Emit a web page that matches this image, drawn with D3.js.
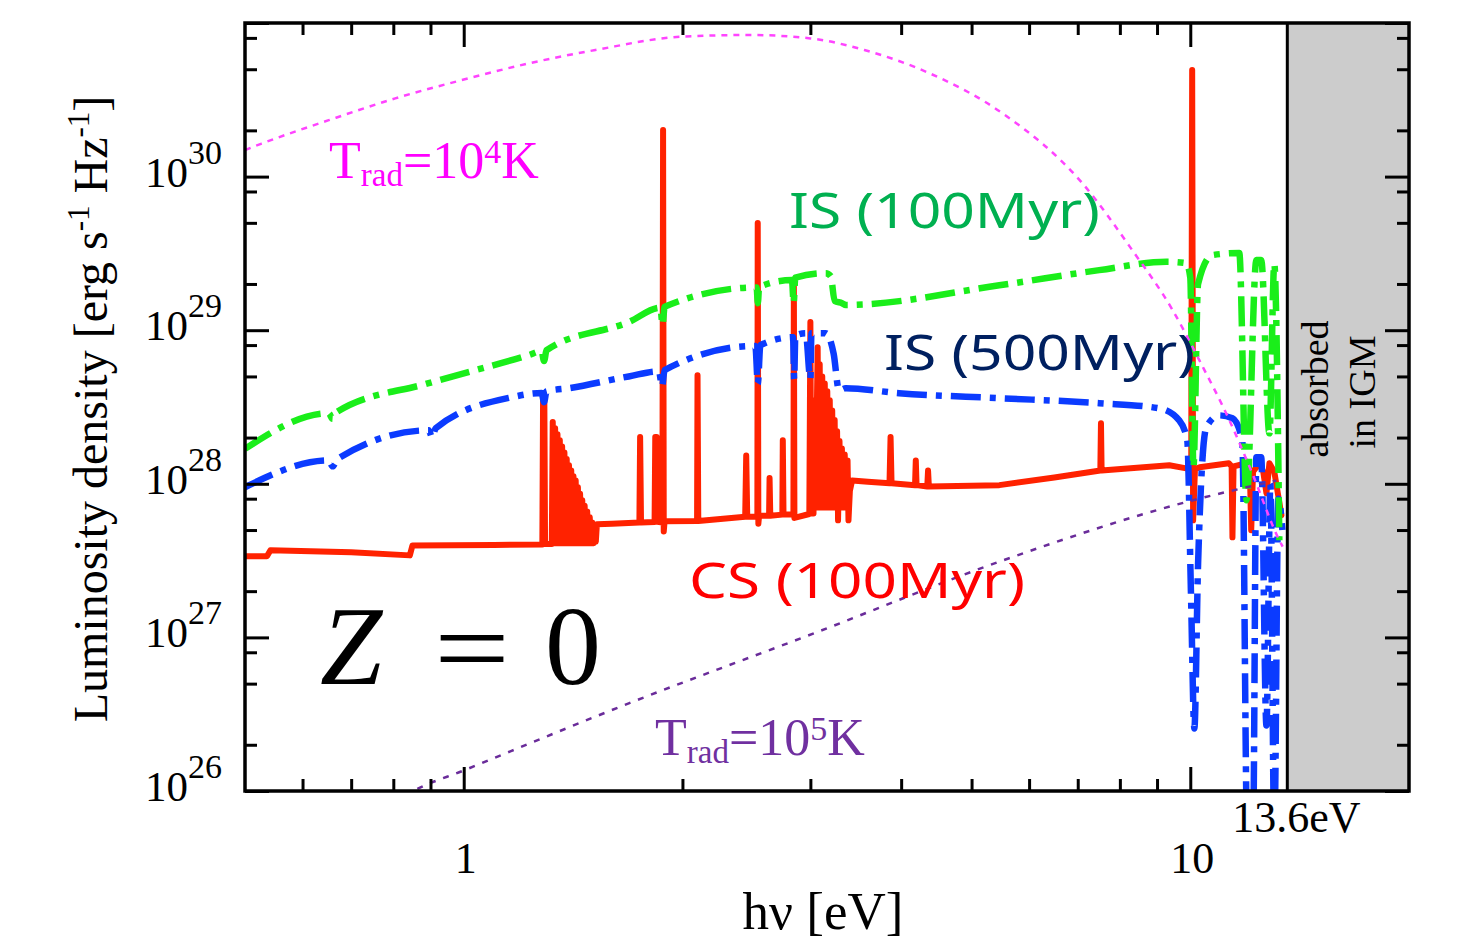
<!DOCTYPE html>
<html>
<head>
<meta charset="utf-8">
<script src="https://cdn.jsdelivr.net/npm/d3@7"></script>
<style>
  html, body { margin: 0; padding: 0; background: #ffffff; }
  svg { display: block; }
</style>
</head>
<body>
<svg id="chart" width="1463" height="942"></svg>
<script>
// ---------------- data ----------------
const xTicksMajor = [1, 10];
const xTicksMinor = [0.6, 0.7, 0.8, 0.9, 2, 3, 4, 5, 6, 7, 8, 9];
const xTickLabels = ["1", "10"];
const yTicksMajor = [1e26, 1e27, 1e28, 1e29, 1e30, 1e31];
const yTickExponents = ["26", "27", "28", "29", "30"];
const yTicksMinor = [2e26, 5e26, 8e26, 2e27, 5e27, 8e27, 2e28, 5e28, 8e28,
                     2e29, 5e29, 8e29, 2e30, 5e30, 8e30];
const lymanLimit = 13.6;   // eV, start of the "absorbed in IGM" band

// [h nu (eV), L_nu (erg s^-1 Hz^-1)]
const bb1e4 = [
  [0.50, 1.49e30], [0.527, 1.64e30], [0.652, 2.33e30], [0.805, 3.23e30],
  [0.994, 4.25e30], [1.229, 5.46e30], [1.518, 6.67e30], [1.997, 8.15e30],
  [2.47, 8.36e30], [3.00, 7.94e30], [3.56, 6.67e30], [4.37, 4.72e30],
  [5.51, 2.59e30], [7.10, 9.08e29], [8.32, 3.32e29], [9.44, 1.37e29],
  [10.29, 6.38e28], [11.32, 2.59e28], [12.17, 1.17e28], [13.26, 4.29e27],
  [13.40, 3.9e27]
];

const bb1e5 = [
  [0.80, 8.3e25], [0.853, 1.0e26], [1.0, 1.36e26], [1.687, 3.72e26],
  [3.045, 1.07e27], [5.51, 3.16e27], [10.03, 7.76e27], [13.14, 1.05e28]
];

const cs100 = [
  [0.50, 3.37e27], [0.536, 3.37e27], [0.542, 3.69e27], [0.70, 3.58e27],
  [0.843, 3.42e27], [0.850, 3.97e27], [1.10, 4.00e27], [1.283, 4.03e27],
  [1.286, 3.78e28], [1.291, 3.78e28], [1.294, 4.05e27], [1.322, 4.05e27],
  [1.326, 2.53e28], [1.331, 4.1e27], [1.336, 2.3e28], [1.341, 4.1e27],
  [1.346, 2.1e28], [1.351, 4.1e27], [1.356, 1.92e28], [1.361, 4.1e27],
  [1.366, 1.75e28], [1.371, 4.1e27], [1.376, 1.6e28], [1.381, 4.1e27],
  [1.386, 1.45e28], [1.391, 4.1e27], [1.396, 1.32e28], [1.401, 4.1e27],
  [1.406, 1.22e28], [1.411, 4.1e27], [1.416, 1.12e28], [1.421, 4.1e27],
  [1.426, 1.05e28], [1.431, 4.1e27], [1.436, 9.5e27], [1.441, 4.1e27],
  [1.446, 8.6e27], [1.451, 4.1e27], [1.456, 7.8e27], [1.461, 4.1e27],
  [1.467, 7.2e27], [1.473, 4.1e27], [1.479, 6.6e27], [1.485, 4.1e27],
  [1.491, 6.05e27], [1.497, 4.1e27], [1.503, 5.6e27], [1.509, 4.1e27],
  [1.515, 5.21e27], [1.520, 4.2e27], [1.525, 5.45e27], [1.60, 5.5e27],
  [1.745, 5.6e27], [1.749, 2.02e28], [1.754, 5.6e27], [1.831, 5.65e27],
  [1.835, 2.02e28], [1.843, 2.02e28], [1.847, 5.65e27], [1.877, 5.6e27],
  [1.881, 2.01e30], [1.885, 4.9e27], [1.89, 5.7e27], [2.095, 5.73e27],
  [2.098, 5.09e28], [2.103, 5.73e27], [2.44, 6.1e27], [2.448, 1.53e28],
  [2.456, 6.1e27], [2.536, 6.1e27], [2.539, 4.98e29], [2.544, 5.5e27],
  [2.55, 6.2e27], [2.632, 6.2e27], [2.636, 1.09e28], [2.642, 6.2e27],
  [2.745, 6.3e27], [2.749, 1.92e28], [2.755, 6.3e27], [2.843, 6.3e27],
  [2.847, 1.96e29], [2.852, 6.0e27], [2.99, 6.36e27], [3.00, 1.13e29],
  [3.008, 6.4e27], [3.03, 6.4e27], [3.04, 3.5e28], [3.05, 7.0e27],
  [3.07, 7.75e28], [3.08, 7.0e27], [3.09, 6.0e28], [3.10, 7.0e27],
  [3.115, 5.0e28], [3.125, 7.0e27], [3.14, 4.5e28], [3.15, 7.0e27],
  [3.165, 4.0e28], [3.175, 7.0e27], [3.19, 3.5e28], [3.20, 7.0e27],
  [3.215, 3.0e28], [3.225, 7.0e27], [3.24, 2.6e28], [3.25, 7.0e27],
  [3.265, 2.2e28], [3.275, 5.78e27], [3.29, 1.9e28], [3.30, 7.0e27],
  [3.315, 1.7e28], [3.325, 7.0e27], [3.345, 1.55e28], [3.358, 7.0e27],
  [3.375, 1.42e28], [3.385, 5.78e27], [3.40, 9.0e27], [3.424, 1.05e28],
  [3.60, 1.03e28], [3.855, 1.01e28], [3.868, 2.02e28], [3.88, 1.01e28],
  [4.18, 9.8e27], [4.19, 1.42e28], [4.20, 9.8e27], [4.345, 9.6e27],
  [4.356, 1.22e28], [4.367, 9.6e27], [5.46, 9.8e27], [6.5, 1.1e28],
  [7.52, 1.22e28], [7.535, 2.48e28], [7.55, 1.22e28], [9.357, 1.32e28],
  [9.874, 1.26e28], [10.03, 1.24e28], [10.06, 4.94e30], [10.09, 5.78e27],
  [10.15, 1.25e28], [10.3, 1.28e28], [11.3, 1.36e28], [11.40, 1.3e28],
  [11.43, 4.48e27], [11.47, 1.3e28], [11.95, 1.36e28], [12.08, 1.2e28],
  [12.13, 4.98e27], [12.2, 1.2e28], [12.45, 1.36e28], [12.6, 1.2e28],
  [12.73, 8.67e27], [12.85, 1.36e28], [13.05, 1.2e28], [13.35, 6.24e27]
];

const is500 = [
  [0.50, 9.5e27], [0.652, 1.42e28], [0.66, 1.30e28], [0.67, 1.45e28],
  [0.895, 2.23e28], [0.905, 2.0e28], [0.915, 2.3e28], [1.164, 3.66e28],
  [1.28, 3.9e28], [1.29, 3.4e28], [1.30, 4.0e28], [1.40, 4.2e28],
  [1.687, 5.0e28], [1.856, 5.4e28], [1.875, 4.3e28], [1.89, 5.5e28],
  [2.52, 7.9e28], [2.54, 4.5e28], [2.56, 8.0e28], [2.84, 9.0e28],
  [2.85, 4.8e28], [2.86, 9.2e28], [2.956, 9.55e28], [3.00, 4.8e28],
  [3.01, 9.55e28], [3.149, 9.55e28], [3.23, 7.0e28], [3.285, 4.06e28],
  [3.356, 4.19e28], [3.973, 3.89e28], [5.46, 3.61e28], [7.493, 3.35e28],
  [9.066, 3.10e28], [9.656, 2.59e28], [9.905, 1.92e28], [10.02, 2.0e27],
  [10.13, 2.55e26], [10.25, 3.0e27], [10.52, 2.33e28], [10.96, 2.79e28],
  [11.43, 2.67e28], [11.79, 1.92e28], [11.98, 5.0e25], [12.20, 5.0e25],
  [12.33, 1.49e28], [12.52, 1.49e28], [12.73, 2.67e26], [12.89, 1.0e28],
  [13.05, 5.0e25], [13.22, 8.0e27], [13.39, 5.0e27]
];

const is100 = [
  [0.50, 1.69e28], [0.652, 2.88e28], [0.66, 2.65e28], [0.67, 2.95e28],
  [0.895, 4.52e28], [1.229, 6.88e28], [1.28, 7.3e28], [1.29, 6.3e28],
  [1.30, 7.4e28], [1.687, 1.13e29], [1.865, 1.40e29], [1.878, 1.08e29],
  [1.89, 1.42e29], [2.53, 1.9e29], [2.54, 1.5e29], [2.55, 1.91e29],
  [2.83, 2.12e29], [2.845, 1.5e29], [2.86, 2.2e29], [3.149, 2.35e29],
  [3.20, 2.25e29], [3.24, 1.55e29], [3.317, 1.50e29], [3.356, 1.46e29],
  [5.46, 1.96e29], [7.493, 2.46e29], [9.27, 2.79e29], [9.874, 2.73e29],
  [10.0, 2.2e29], [10.1, 1.28e28], [10.25, 2.0e29], [10.72, 3.08e29],
  [11.68, 3.18e29], [11.95, 7.8e27], [12.33, 2.86e29], [12.52, 2.86e29],
  [12.85, 2.13e28], [13.05, 2.7e29], [13.26, 4.29e27]
];

// ---------------- drawing ----------------
const svg = d3.select("#chart");
const L = 245, R = 1409, T = 23, B = 791;

const x = d3.scaleLog().domain([0.5, 20]).range([L, R]);
const y = d3.scaleLog().domain([1e26, 1e31]).range([B, T]);

svg.append("rect").attr("width", 1463).attr("height", 942).attr("fill", "#fff");

svg.append("defs").append("clipPath").attr("id", "plotclip")
  .append("rect").attr("x", L).attr("y", T).attr("width", R - L).attr("height", B - T);

const plot = svg.append("g").attr("clip-path", "url(#plotclip)");

const lineLin = d3.line().x(d => x(d[0])).y(d => y(d[1]));
const lineSmooth = d3.line().x(d => x(d[0])).y(d => y(d[1])).curve(d3.curveMonotoneX);

plot.append("path").datum(cs100).attr("d", lineLin)
  .attr("fill", "none").attr("stroke", "#ff2200").attr("stroke-width", 6)
  .attr("stroke-linejoin", "round").attr("stroke-linecap", "round");

plot.append("path").datum(is500).attr("d", lineSmooth)
  .attr("fill", "none").attr("stroke", "#0b3bff").attr("stroke-width", 6.5)
  .attr("stroke-dasharray", "30,9,6,9");

plot.append("path").datum(is100).attr("d", lineSmooth)
  .attr("fill", "none").attr("stroke", "#1aee1a").attr("stroke-width", 6.5)
  .attr("stroke-dasharray", "30,9,6,9");

plot.append("path").datum(bb1e4).attr("d", lineSmooth)
  .attr("fill", "none").attr("stroke", "#ff44ff").attr("stroke-width", 2.5)
  .attr("stroke-dasharray", "6,6");

plot.append("path").datum(bb1e5).attr("d", lineSmooth)
  .attr("fill", "none").attr("stroke", "#6a2c9a").attr("stroke-width", 2.5)
  .attr("stroke-dasharray", "6,8");

// absorbed band
const xl = x(lymanLimit);
svg.append("rect").attr("x", xl).attr("y", T).attr("width", R - xl).attr("height", B - T)
  .attr("fill", "#cccccc");
svg.append("line").attr("x1", xl).attr("x2", xl).attr("y1", T).attr("y2", B)
  .attr("stroke", "#000").attr("stroke-width", 3);

// axes (ticks inward on all sides)
function styleAxis(g) {
  g.select(".domain").remove();
  g.selectAll(".tick line").attr("stroke", "#000").attr("stroke-width", 3);
  g.selectAll(".tick text").remove();
}
const majLen = 24, minLen = 12;
svg.append("g").attr("transform", `translate(0,${B})`)
  .call(d3.axisBottom(x).tickValues(xTicksMajor).tickSize(-majLen).tickFormat("")).call(styleAxis);
svg.append("g").attr("transform", `translate(0,${B})`)
  .call(d3.axisBottom(x).tickValues(xTicksMinor).tickSize(-minLen).tickFormat("")).call(styleAxis);
svg.append("g").attr("transform", `translate(0,${T})`)
  .call(d3.axisTop(x).tickValues(xTicksMajor).tickSize(-majLen).tickFormat("")).call(styleAxis);
svg.append("g").attr("transform", `translate(0,${T})`)
  .call(d3.axisTop(x).tickValues(xTicksMinor).tickSize(-minLen).tickFormat("")).call(styleAxis);
svg.append("g").attr("transform", `translate(${L},0)`)
  .call(d3.axisLeft(y).tickValues(yTicksMajor).tickSize(-majLen).tickFormat("")).call(styleAxis);
svg.append("g").attr("transform", `translate(${L},0)`)
  .call(d3.axisLeft(y).tickValues(yTicksMinor).tickSize(-minLen).tickFormat("")).call(styleAxis);
svg.append("g").attr("transform", `translate(${R},0)`)
  .call(d3.axisRight(y).tickValues(yTicksMajor).tickSize(-majLen).tickFormat("")).call(styleAxis);
svg.append("g").attr("transform", `translate(${R},0)`)
  .call(d3.axisRight(y).tickValues(yTicksMinor).tickSize(-minLen).tickFormat("")).call(styleAxis);

// frame
svg.append("rect").attr("x", L).attr("y", T).attr("width", R - L).attr("height", B - T)
  .attr("fill", "none").attr("stroke", "#000").attr("stroke-width", 3.5);

const serif = "'Liberation Serif', 'Times New Roman', serif";
const sans = "'Noto Sans', 'Noto Sans CJK JP', sans-serif";

// y tick labels
yTickExponents.forEach((e, i) => {
  const t = svg.append("text").attr("x", L - 23).attr("y", y(yTicksMajor[i]) + 10)
    .attr("text-anchor", "end").attr("font-family", serif).attr("font-size", 43).attr("fill", "#000");
  t.append("tspan").text("10");
  t.append("tspan").attr("dy", -23).attr("font-size", 34).text(e);
});

// x tick labels
xTickLabels.forEach((s, i) => {
  svg.append("text").attr("x", x(xTicksMajor[i]) + 2).attr("y", 873)
    .attr("text-anchor", "middle").attr("font-family", serif).attr("font-size", 44).text(s);
});
svg.append("text").attr("x", xl + 9).attr("y", 832).attr("text-anchor", "middle")
  .attr("font-family", serif).attr("font-size", 44).text("13.6eV");

// axis titles
svg.append("text").attr("x", 823).attr("y", 929).attr("text-anchor", "middle")
  .attr("font-family", serif).attr("font-size", 53).text("hν [eV]");

const yt = svg.append("text").attr("transform", "translate(107,409) rotate(-90)")
  .attr("text-anchor", "middle").attr("font-family", serif).attr("font-size", 48);
yt.append("tspan").text("Luminosity density [erg s");
yt.append("tspan").attr("dy", -18).attr("font-size", 31).text("-1");
yt.append("tspan").attr("dy", 18).text(" Hz");
yt.append("tspan").attr("dy", -18).attr("font-size", 31).text("-1");
yt.append("tspan").attr("dy", 18).text("]");

// annotations
function tradLabel(xp, yp, exp, color) {
  const t = svg.append("text").attr("x", xp).attr("y", yp)
    .attr("font-family", serif).attr("font-size", 52).attr("fill", color);
  t.append("tspan").text("T");
  t.append("tspan").attr("dy", 8).attr("font-size", 33).text("rad");
  t.append("tspan").attr("dy", -8).text("=10");
  t.append("tspan").attr("dy", -15).attr("font-size", 34).text(exp);
  t.append("tspan").attr("dy", 15).text("K");
}
tradLabel(329, 178, "4", "#ff00ff");
tradLabel(655, 755, "5", "#7030a0");

function speciesLabel(xp, yp, len, color, txt) {
  svg.append("text").attr("x", xp).attr("y", yp).attr("font-family", sans)
    .attr("font-size", 50).attr("fill", color)
    .attr("textLength", len).attr("lengthAdjust", "spacingAndGlyphs").text(txt);
}
speciesLabel(789, 228, 311, "#00b050", "IS (100Myr)");
speciesLabel(884, 370, 311, "#002060", "IS (500Myr)");
speciesLabel(689, 598, 336, "#ff0000", "CS (100Myr)");

// Z = 0
svg.append("text").attr("x", 320).attr("y", 684).attr("font-family", serif)
  .attr("font-style", "italic").attr("font-size", 112).text("Z");
svg.append("text").attr("x", 472).attr("y", 684).attr("text-anchor", "middle")
  .attr("font-family", serif).attr("font-size", 108)
  .attr("textLength", 76).attr("lengthAdjust", "spacingAndGlyphs").text("=");
svg.append("text").attr("x", 573).attr("y", 684).attr("text-anchor", "middle")
  .attr("font-family", serif).attr("font-size", 112).text("0");

// absorbed in IGM
svg.append("text").attr("transform", "translate(1328,389) rotate(-90)")
  .attr("text-anchor", "middle").attr("font-family", serif).attr("font-size", 38).text("absorbed");
svg.append("text").attr("transform", "translate(1375,392) rotate(-90)")
  .attr("text-anchor", "middle").attr("font-family", serif).attr("font-size", 38).text("in IGM");
</script>
</body>
</html>
